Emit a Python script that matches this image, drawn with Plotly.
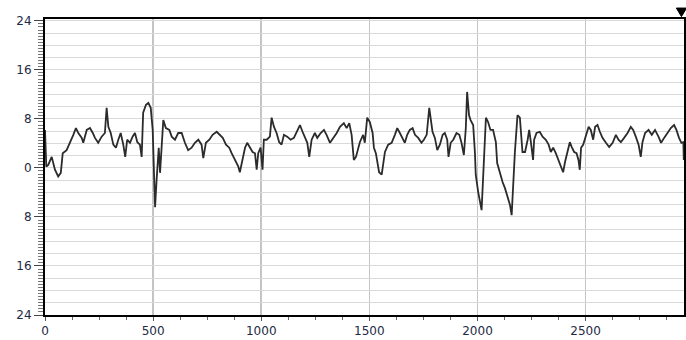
import plotly.graph_objects as go

# Signal samples
sample_x = [0, 6, 15, 31, 46, 61, 73, 82, 100, 116, 131, 143, 154, 170, 177, 193, 208, 221, 231, 246,
            262, 277, 285, 293, 304, 316, 328, 339, 350, 362, 371, 380, 393, 405, 416, 427, 439, 447, 454, 467,
            478, 489, 498, 504, 509, 516, 526, 532, 539, 547, 559, 575, 586, 601, 616, 632, 647, 662, 678, 693,
            709, 724, 732, 744, 760, 775, 794, 809, 822, 837, 852, 863, 878, 894, 901, 914, 925, 935, 948, 960,
            971, 979, 986, 997, 1006, 1012, 1025, 1040, 1048, 1059, 1071, 1083, 1094, 1105, 1120, 1136, 1151, 1166, 1179, 1191,
            1202, 1213, 1222, 1233, 1248, 1259, 1275, 1290, 1302, 1318, 1333, 1349, 1364, 1382, 1395, 1407, 1418, 1428, 1438, 1448,
            1456, 1471, 1479, 1490, 1502, 1515, 1521, 1530, 1536, 1545, 1557, 1564, 1572, 1587, 1603, 1618, 1629, 1641, 1654, 1664,
            1675, 1687, 1700, 1711, 1726, 1741, 1752, 1765, 1777, 1783, 1792, 1803, 1814, 1826, 1839, 1849, 1860, 1866, 1876, 1888,
            1903, 1916, 1926, 1937, 1946, 1952, 1961, 1968, 1980, 1988, 1992, 2003, 2019, 2026, 2034, 2039, 2049, 2060, 2072, 2085,
            2091, 2103, 2116, 2127, 2137, 2150, 2158, 2165, 2173, 2185, 2196, 2208, 2220, 2232, 2239, 2247, 2257, 2262, 2273, 2288,
            2301, 2316, 2329, 2339, 2350, 2362, 2375, 2385, 2396, 2405, 2416, 2427, 2436, 2447, 2458, 2467, 2473, 2479, 2489, 2501,
            2514, 2524, 2535, 2544, 2555, 2566, 2578, 2594, 2609, 2625, 2640, 2652, 2663, 2678, 2694, 2709, 2720, 2732, 2745, 2755,
            2763, 2775, 2791, 2806, 2821, 2837, 2849, 2863, 2879, 2894, 2909, 2920, 2932, 2943, 2952, 2954]
sample_y = [6.2, 0.2, 0.5, 1.8, -0.3, -1.4, -0.8, 2.4, 2.9, 4.1, 5.4, 6.5, 5.7, 4.9, 4.1, 6.2, 6.5, 5.7, 4.9, 4.1,
            5.1, 5.7, 9.8, 6.7, 5.7, 3.8, 3.3, 4.6, 5.7, 3.8, 1.8, 4.6, 4.1, 5.1, 5.7, 4.2, 3.8, 1.8, 9.0, 10.3,
            10.6, 9.8, 6.2, -0.8, -6.4, -2.0, 3.3, -0.8, 4.1, 7.8, 6.5, 6.2, 5.1, 4.6, 5.7, 5.7, 4.1, 2.9, 3.3, 4.1,
            4.6, 3.8, 1.6, 4.1, 4.6, 5.4, 5.9, 5.4, 4.9, 3.8, 3.3, 2.4, 1.3, 0.2, -0.7, 1.6, 3.3, 4.1, 3.3, 2.6,
            2.4, -0.3, 2.4, 3.3, -0.3, 4.6, 4.6, 5.1, 8.2, 6.7, 5.7, 4.2, 3.8, 5.4, 5.1, 4.6, 4.9, 5.9, 7.0, 5.9,
            5.1, 4.1, 1.8, 4.6, 5.7, 4.9, 5.7, 6.2, 5.4, 4.1, 4.9, 5.7, 6.7, 7.3, 6.5, 7.3, 5.4, 1.3, 1.8, 3.3,
            4.2, 5.4, 4.1, 8.2, 7.5, 5.7, 3.3, 2.4, 0.8, -0.7, -1.1, 0.5, 2.6, 3.8, 4.1, 5.4, 6.5, 5.7, 4.9, 4.1,
            5.4, 6.2, 6.5, 5.4, 4.9, 4.1, 4.6, 5.4, 9.8, 7.8, 5.9, 4.9, 2.9, 3.8, 5.4, 5.7, 4.6, 1.8, 4.1, 4.6,
            5.7, 5.4, 4.1, 2.1, 6.5, 12.4, 8.6, 7.8, 7.0, 2.6, -1.1, -3.9, -6.9, -1.6, 5.9, 8.2, 7.5, 6.2, 6.2, 4.2,
            0.8, -0.8, -2.3, -3.3, -4.4, -6.0, -7.7, -2.8, 2.6, 8.6, 8.2, 2.6, 2.6, 4.6, 6.2, 4.2, 1.3, 4.6, 5.7, 5.9,
            5.1, 4.6, 3.8, 2.6, 3.3, 2.4, 1.3, 0.2, -0.7, 1.0, 2.6, 4.2, 3.4, 2.6, 2.4, 1.3, -0.3, 3.3, 3.8, 5.4,
            6.7, 6.2, 4.6, 6.7, 7.0, 5.9, 4.9, 4.1, 3.4, 4.1, 5.4, 4.6, 4.2, 4.9, 5.7, 6.7, 6.2, 5.1, 3.8, 1.8,
            4.2, 5.7, 6.2, 5.4, 6.2, 5.1, 4.1, 4.9, 5.7, 6.5, 7.0, 6.2, 4.9, 4.1, 4.2, 1.3]

x_tick_vals = [0, 500, 1000, 1500, 2000, 2500]
x_tick_text = ["0", "500", "1000", "1500", "2000", "2500"]
y_tick_vals = [-24, -16, -8, 0, 8, 16, 24]
y_tick_text = ["24", "16", "8", "0", "8", "16", "24"]

X_RANGE = [0, 2955]
Y_RANGE = [-24, 24.3]

FONT = dict(family="DejaVu Sans, Verdana, sans-serif", size=12, color="#1e2a44")

fig = go.Figure()
# dummy trace to carry the fine grid axis
fig.add_trace(go.Scatter(x=[None], y=[None], yaxis="y2", showlegend=False, hoverinfo="skip"))
fig.add_trace(go.Scatter(
    x=sample_x, y=sample_y, mode="lines",
    line=dict(color="#2b2b2b", width=1.8),
    showlegend=False, hoverinfo="skip",
))

fig.update_layout(
    width=686, height=340,
    margin=dict(l=45, r=2, t=19, b=25, autoexpand=False),
    paper_bgcolor="white", plot_bgcolor="white",
    font=FONT,
    xaxis=dict(
        range=X_RANGE, tickvals=x_tick_vals, ticktext=x_tick_text,
        showgrid=True, gridcolor="#c4c4c4", gridwidth=1.5,
        zeroline=False,
        showline=True, linecolor="black", linewidth=2, mirror=True,
        ticks="outside", ticklen=4, tickcolor="#555", tickfont=FONT,
        minor=dict(dtick=125, tick0=0, ticks="outside", ticklen=3, tickcolor="#666", showgrid=False),
    ),
    yaxis=dict(
        range=Y_RANGE, tickvals=y_tick_vals, ticktext=y_tick_text,
        showgrid=False, zeroline=False,
        showline=True, linecolor="black", linewidth=2, mirror=True,
        ticks="outside", ticklen=9, tickcolor="#444", tickfont=FONT,
        minor=dict(dtick=0.5, tick0=0, ticks="outside", ticklen=5, tickcolor="#777", showgrid=False),
    ),
    yaxis2=dict(
        overlaying="y", range=Y_RANGE, dtick=2, tick0=0,
        showgrid=True, gridcolor="#d9d9d9", gridwidth=1,
        showticklabels=False, ticks="", zeroline=False, showline=False,
    ),
    shapes=[dict(
        type="path", xref="paper", yref="paper",
        path="M 0.988 1.037 L 1.004 1.037 L 0.996 1.008 Z",
        fillcolor="black", line=dict(color="black", width=1),
    )],
)

fig.write_html(
    "out.html",
    config={"displayModeBar": False, "staticPlot": True},
    post_script="document.body.style.margin='0';document.body.style.padding='0';",
)
